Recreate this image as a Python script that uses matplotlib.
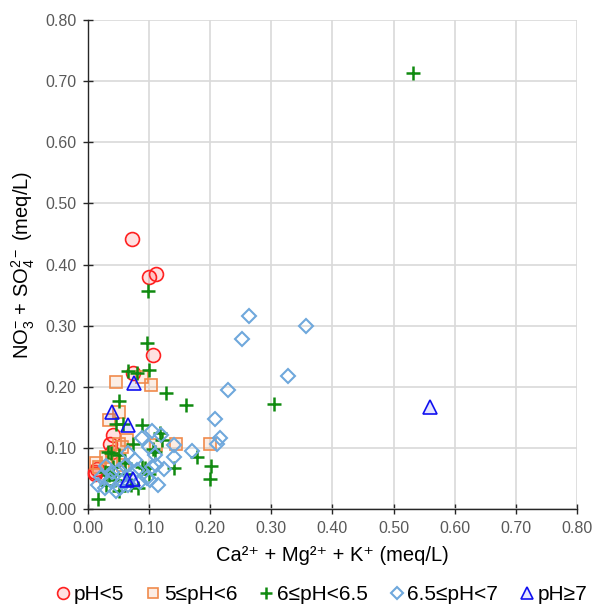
import matplotlib
matplotlib.use("Agg")
import matplotlib.pyplot as plt
from matplotlib.lines import Line2D

plt.rcParams['font.family'] = ['Liberation Sans', 'DejaVu Sans']
plt.rcParams['mathtext.fontset'] = 'custom'
plt.rcParams['mathtext.rm'] = 'Liberation Sans'
plt.rcParams['mathtext.it'] = 'Liberation Sans:italic'
plt.rcParams['mathtext.bf'] = 'Liberation Sans:bold'

# ---- data (x = Ca2+ + Mg2+ + K+, y = NO3- + SO4 2-) ----
ph_lt5_x = [0.072, 0.099, 0.111, 0.107, 0.073, 0.041, 0.036, 0.039, 0.011, 0.012, 0.014]
ph_lt5_y = [0.442, 0.379, 0.384, 0.252, 0.222, 0.121, 0.107, 0.094, 0.061, 0.057, 0.065]

ph_5_6_x = [0.089, 0.045, 0.103, 0.050, 0.035, 0.063, 0.050, 0.055, 0.112, 0.144, 0.200,
            0.050, 0.013, 0.018, 0.040, 0.058, 0.030]
ph_5_6_y = [0.216, 0.208, 0.203, 0.159, 0.145, 0.113, 0.107, 0.102, 0.104, 0.106, 0.106,
            0.080, 0.075, 0.068, 0.078, 0.072, 0.085]

ph_6_65_x = [0.532, 0.098, 0.096, 0.065, 0.080, 0.099, 0.128, 0.161, 0.304, 0.050,
             0.045, 0.058, 0.088, 0.118, 0.121, 0.074, 0.033, 0.038, 0.050, 0.110,
             0.107, 0.179, 0.201, 0.199, 0.140, 0.093, 0.099, 0.041, 0.028, 0.061,
             0.044, 0.088, 0.082, 0.017, 0.030, 0.050, 0.070, 0.060, 0.035]
ph_6_65_y = [0.714, 0.357, 0.271, 0.225, 0.222, 0.228, 0.189, 0.170, 0.172, 0.176,
             0.139, 0.139, 0.137, 0.124, 0.113, 0.107, 0.094, 0.091, 0.088, 0.094,
             0.099, 0.085, 0.070, 0.049, 0.067, 0.067, 0.058, 0.069, 0.061, 0.058,
             0.047, 0.069, 0.034, 0.016, 0.040, 0.030, 0.040, 0.075, 0.055]

ph_65_7_x = [0.264, 0.356, 0.252, 0.327, 0.229, 0.207, 0.216, 0.211, 0.170, 0.140,
             0.140, 0.104, 0.088, 0.119, 0.099, 0.110, 0.066, 0.077, 0.111, 0.124,
             0.104, 0.050, 0.080, 0.072, 0.096, 0.101, 0.115, 0.022, 0.017, 0.028,
             0.036, 0.055, 0.052, 0.040, 0.060, 0.065, 0.045, 0.085, 0.030]
ph_65_7_y = [0.316, 0.300, 0.278, 0.218, 0.194, 0.148, 0.116, 0.107, 0.095, 0.085,
             0.105, 0.128, 0.116, 0.121, 0.102, 0.088, 0.091, 0.080, 0.072, 0.065,
             0.069, 0.064, 0.064, 0.056, 0.050, 0.047, 0.039, 0.053, 0.039, 0.034,
             0.047, 0.045, 0.034, 0.060, 0.070, 0.040, 0.030, 0.045, 0.070]

ph_ge7_x = [0.560, 0.076, 0.040, 0.065, 0.063, 0.073]
ph_ge7_y = [0.167, 0.206, 0.159, 0.137, 0.047, 0.049]

labels = ['pH<5', '5≤pH<6', '6≤pH<6.5', '6.5≤pH<7', 'pH≥7']
ticks = [0.0, 0.1, 0.2, 0.3, 0.4, 0.5, 0.6, 0.7, 0.8]

fig = plt.figure(figsize=(5.97, 6.09), dpi=100)
ax = fig.add_axes([0.1474, 0.1642, 0.8191, 0.8028])

styles = [
    dict(marker='o', ms=10, mec='#FF2020', mfc=(1, 0, 0, 0.12), mew=1.2),
    dict(marker='s', ms=9, mec='#F08A4B', mfc=(0.94, 0.54, 0.29, 0.15), mew=1.2),
    dict(marker='+', ms=10, mec='#108A10', mfc='none', mew=1.8),
    dict(marker='D', ms=7, mec='#6FA8DC', mfc='none', mew=1.5),
    dict(marker='^', ms=10, mec='#1010F0', mfc=(0, 0, 1, 0.1), mew=1.2),
]
data = [(ph_lt5_x, ph_lt5_y), (ph_5_6_x, ph_5_6_y), (ph_6_65_x, ph_6_65_y),
        (ph_65_7_x, ph_65_7_y), (ph_ge7_x, ph_ge7_y)]

handles = []
for (xs, ys), st, lab in zip(data, styles, labels):
    ax.plot(xs, ys, linestyle='none', zorder=3, clip_on=False, **st)
    handles.append(Line2D([], [], linestyle='none', label=lab,
                          **{**st, 'ms': st['ms'] * 0.85}))

ax.set_xlim(0, 0.8)
ax.set_ylim(0, 0.8)
ax.set_xticks(ticks)
ax.set_yticks(ticks)
ax.set_xticklabels([f'{t:.2f}' for t in ticks])
ax.set_yticklabels([f'{t:.2f}' for t in ticks])
ax.grid(True, color='#D9D9D9', linewidth=1.2, zorder=0)
ax.set_axisbelow(True)
for s in ['top', 'right']:
    ax.spines[s].set_visible(False)
for s in ['left', 'bottom']:
    ax.spines[s].set_color('#262626')
    ax.spines[s].set_linewidth(1.0)
ax.tick_params(axis='both', direction='inout', length=7, width=1.0,
               color='#262626', labelsize=11.5, labelcolor='#595959', pad=5)

ax.set_xlabel('Ca²⁺ + Mg²⁺ + K⁺ (meq/L)', fontsize=14.5, labelpad=7)
ax.set_ylabel(r'NO$_3^{-}$ + SO$_4^{2-}$ (meq/L)', fontsize=14.5, labelpad=6)

fig.legend(handles=handles, loc='center', bbox_to_anchor=(0.54, 0.024), ncol=5,
           frameon=False, fontsize=15, handlelength=0.6, handletextpad=0.2,
           columnspacing=1.1, borderaxespad=0)

fig.savefig('out.png', dpi=100)
